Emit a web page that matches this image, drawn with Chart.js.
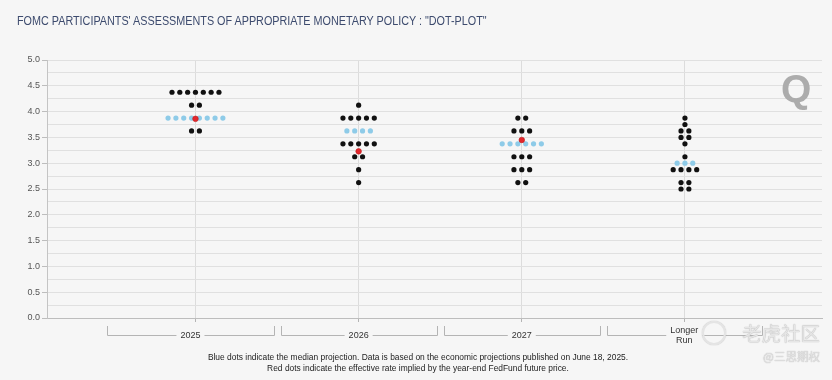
<!DOCTYPE html>
<html><head><meta charset="utf-8">
<script src="https://cdn.jsdelivr.net/npm/chart.js@4.4.1/dist/chart.umd.min.js"></script>
<style>
html,body{margin:0;padding:0;background:#f6f6f6;width:832px;height:380px;overflow:hidden;}
#wrap{position:relative;width:832px;height:380px;}
#c{position:absolute;left:0;top:0;}
.title{position:absolute;left:17px;top:14px;font-family:'Liberation Sans',Arial,sans-serif;font-size:12px;color:#3d4b6e;white-space:nowrap;transform:scaleX(0.9);transform-origin:0 0;}
.note{position:absolute;left:0;width:836px;text-align:center;top:351px;font-family:'Liberation Sans',Arial,sans-serif;font-size:9.5px;line-height:11px;color:#222;transform:scaleX(0.885);transform-origin:418px 0;}
.wm1{position:absolute;left:742px;top:318px;font-family:'Noto Sans CJK SC',sans-serif;font-size:19.5px;color:#e6e6e6;text-shadow:0 0 1px #9a9a9a;white-space:nowrap;}
.wm2{position:absolute;left:763px;top:348px;font-family:'Noto Sans CJK SC',sans-serif;font-size:11.5px;color:#e4e4e4;text-shadow:0 0 1px #9a9a9a;white-space:nowrap;}
.wmc{position:absolute;left:702px;top:321px;width:20px;height:20px;border:2px solid #e4e4e4;border-radius:50%;box-shadow:0 0 1px #9a9a9a;}
.q{position:absolute;left:781px;top:67px;font-family:'Liberation Sans',sans-serif;font-weight:bold;font-size:39px;color:#acacac;}
</style></head>
<body>
<div id="wrap">
<canvas id="c" width="832" height="380"></canvas>
<div class="title">FOMC PARTICIPANTS' ASSESSMENTS OF APPROPRIATE MONETARY POLICY : "DOT-PLOT"</div>
<div class="q">Q</div>
<div class="note">Blue dots indicate the median projection. Data is based on the economic projections published on June 18, 2025.<br>Red dots indicate the effective rate implied by the year-end FedFund future price.</div>
<div class="wmc"></div>
<div class="wm1">老虎社区</div>
<div class="wm2">@三思期权</div>
</div>
<script>
// ---- data ----
const categories = ['2025', '2026', '2027', 'Longer Run'];
const levels2025 = [4.375, 4.125, 3.875, 3.625];
const counts2025 = [7, 2, 8, 2];
const levels2026 = [4.125, 3.875, 3.625, 3.375, 3.125, 2.875, 2.625];
const counts2026 = [1, 5, 4, 5, 2, 1, 1];
const levels2027 = [3.875, 3.625, 3.375, 3.125, 2.875, 2.625];
const counts2027 = [2, 3, 6, 3, 3, 2];
const levelsLonger = [3.875, 3.75, 3.625, 3.5, 3.375, 3.125, 3.0, 2.875, 2.625, 2.5];
const countsLonger = [1, 1, 2, 2, 1, 1, 3, 4, 2, 2];
const medians = [3.875, 3.625, 3.375, 3.0];
const futuresImplied = [3.86, 3.23, 3.45, null];
const yMin = 0, yMax = 5, yMajorStep = 0.5, yMinorStep = 0.25;

// ---- build ----
const DOT_STEP = 0.048; // horizontal spacing of dots in x units
const groups = [
  {levels: levels2025, counts: counts2025},
  {levels: levels2026, counts: counts2026},
  {levels: levels2027, counts: counts2027},
  {levels: levelsLonger, counts: countsLonger}
];
const blackPts = [], bluePts = [], redPts = [];
groups.forEach((g, ci) => {
  g.levels.forEach((lv, r) => {
    const n = g.counts[r];
    const target = (lv === medians[ci]) ? bluePts : blackPts;
    for (let k = 0; k < n; k++) target.push({x: ci + 1 + (k - (n - 1) / 2) * DOT_STEP, y: lv});
  });
  if (futuresImplied[ci] !== null) redPts.push({x: ci + 1, y: futuresImplied[ci]});
});

const bracketPlugin = {
  id: 'brackets',
  afterDraw(chart) {
    const xs = chart.scales.x, ctx = chart.ctx;
    const n = categories.length, gap = 3.5, extL = 0.54, extR = 0.47;
    const yTop = 326, yLine = 335.5;
    ctx.save();
    ctx.font = '9px "Liberation Sans", Arial, sans-serif';
    ctx.fillStyle = '#333';
    ctx.strokeStyle = '#b4b4b4';
    ctx.lineWidth = 1;
    ctx.textAlign = 'center';
    ctx.textBaseline = 'middle';
    for (let i = 0; i < n; i++) {
      const v = i + 1;
      const l = (i === 0 ? xs.getPixelForValue(v - extL) : xs.getPixelForValue(v - 0.5) + gap);
      const r = (i === n - 1 ? xs.getPixelForValue(v + extR) : xs.getPixelForValue(v + 0.5) - gap);
      const c = (l + r) / 2;
      const lines = categories[i].split(' ');
      let w = 0; lines.forEach(s => w = Math.max(w, ctx.measureText(s).width));
      const lx = Math.round(l) + 0.5, rx = Math.round(r) + 0.5;
      ctx.beginPath();
      ctx.moveTo(lx, yTop); ctx.lineTo(lx, yLine); ctx.lineTo(c - w / 2 - 4, yLine);
      ctx.moveTo(c + w / 2 + 4, yLine); ctx.lineTo(rx, yLine); ctx.lineTo(rx, yTop);
      ctx.stroke();
      const lh = 10;
      lines.forEach((s, j) => ctx.fillText(s, c, yLine - (lines.length - 1) * lh / 2 + j * lh));
    }
    ctx.restore();
  }
};

new Chart(document.getElementById('c'), {
  type: 'scatter',
  data: {
    datasets: [
      {label: 'Futures implied', data: redPts, order: 0, backgroundColor: '#e4262c', borderColor: '#b81c1c', borderWidth: 0.6, pointRadius: 2.8},
      {label: 'Median', data: bluePts, order: 1, backgroundColor: '#8ecbe8', borderWidth: 0, pointRadius: 2.6},
      {label: 'Participants', data: blackPts, order: 2, backgroundColor: '#111111', borderWidth: 0, pointRadius: 2.6}
    ]
  },
  options: {
    responsive: false,
    animation: false,
    events: [],
    layout: {padding: {top: 60, right: 10, left: 0, bottom: 0}},
    plugins: {legend: {display: false}, tooltip: {enabled: false}, title: {display: false}},
    scales: {
      x: {
        type: 'linear', min: 0.09, max: 4.84, z: 1,
        afterBuildTicks: s => { s.ticks = categories.map((c, i) => ({value: i + 1})); },
        ticks: {display: false},
        grid: {color: '#dcdcdc', tickLength: 4, tickColor: '#b4b4b4', drawTicks: true},
        border: {color: '#bdbdbd'},
        afterFit: s => { s.height = 62; }
      },
      y: {
        min: yMin, max: yMax,
        ticks: {
          stepSize: yMinorStep, autoSkip: false, padding: 2, color: '#555',
          font: {size: 9, family: '"Liberation Sans", Arial, sans-serif'},
          callback: v => (Math.abs(v / yMajorStep - Math.round(v / yMajorStep)) < 1e-9 ? v.toFixed(1) : '')
        },
        grid: {
          color: '#e0e0e0', tickLength: 5,
          tickColor: ctx => (ctx.tick && Math.abs(ctx.tick.value / yMajorStep - Math.round(ctx.tick.value / yMajorStep)) < 1e-9 ? '#bdbdbd' : 'rgba(0,0,0,0)')
        },
        border: {color: '#c4c4c4'},
        afterFit: s => { s.width = 47; }
      }
    }
  },
  plugins: [bracketPlugin]
});
</script>
</body></html>
